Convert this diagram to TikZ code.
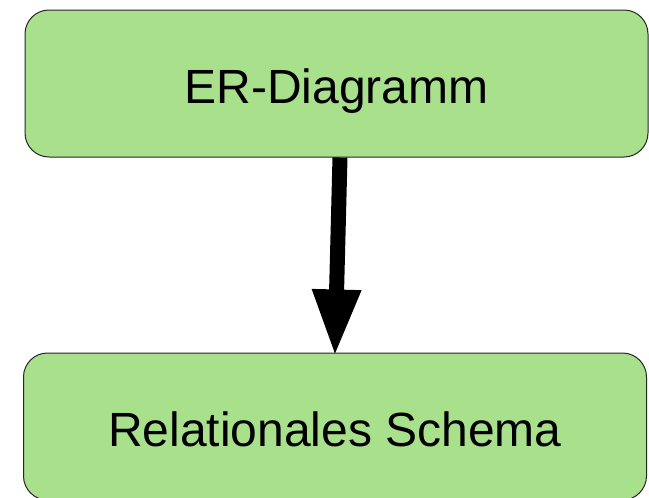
\documentclass[tikz,border=0pt]{standalone}
\usepackage{fontspec}
\setmainfont{Liberation Sans}
\usetikzlibrary{arrows.meta}
\definecolor{boxgreen}{HTML}{A9E08C}
\tikzset{
  box/.style={draw=black!85, line width=1pt, fill=boxgreen, rounded corners=24pt,
    minimum width=623pt, minimum height=147pt, inner sep=0pt,
    font=\fontsize{48}{57}\selectfont, text height=39pt, text depth=0pt},
  bigarrow/.style={line width=15pt, -{Triangle[width=45pt,length=67pt]}, shorten >=-4pt}
}
\begin{document}
\begin{tikzpicture}[x=1pt,y=-1pt]
  \useasboundingbox (0,0) rectangle (649,498);
  \clip (0,0) rectangle (649,498);
  \node[box] (er) at (336.5,83.5) {ER-Diagramm};
  \node[box] (rel) at (335,426.5) {Relationales Schema};
  \draw[bigarrow] ([xshift=3.5pt]er.south) -- (rel.north);
\end{tikzpicture}
\end{document}
